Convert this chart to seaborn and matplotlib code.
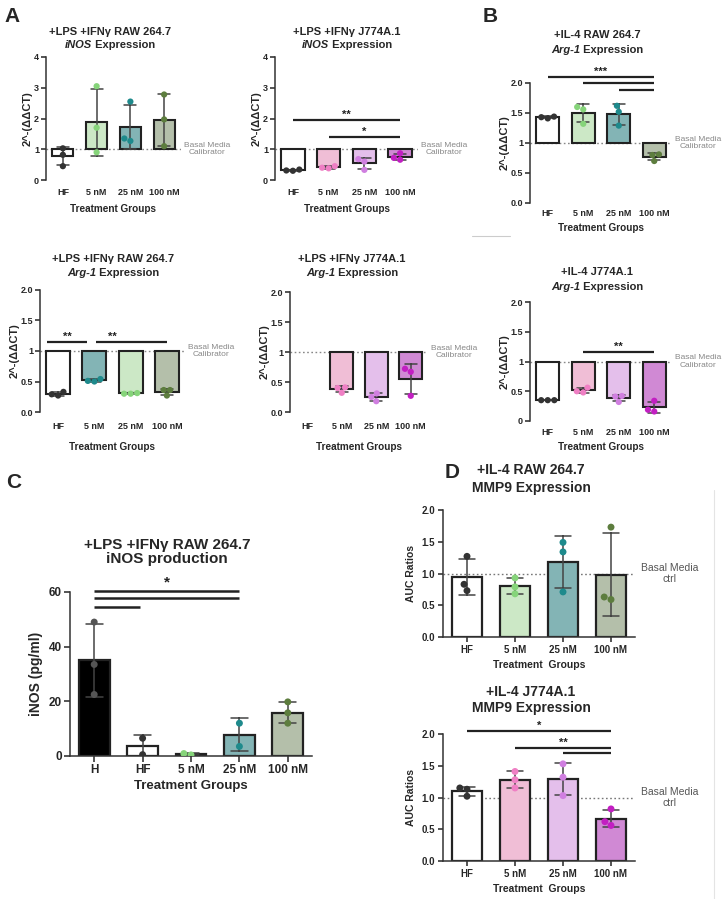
import numpy as np
import pandas as pd
import matplotlib
matplotlib.use("Agg")
import matplotlib.pyplot as plt
import matplotlib.transforms as mtransforms
from matplotlib.lines import Line2D
import seaborn as sns

W, H = 726, 899

groups = ["HF", "5 nM", "25 nM", "100 nM"]
groups_c = ["H", "HF", "5 nM", "25 nM", "100 nM"]

# A: +LPS +IFNg, 2^-(ddCT) per replicate
raw_inos = [[1.03, 0.82, 0.45], [3.05, 1.70, 0.90], [2.55, 1.27, 1.35], [2.78, 1.97, 1.10]]
j774_inos = [[0.30, 0.34, 0.31], [0.38, 0.45, 0.40], [0.33, 0.60, 0.68], [0.87, 0.66, 0.72]]
raw_arg1_lps = [[0.27, 0.33, 0.29], [0.50, 0.54, 0.51], [0.30, 0.31, 0.30], [0.36, 0.36, 0.27]]
j774_arg1_lps = [[], [0.32, 0.41, 0.40], [0.18, 0.31, 0.25], [0.72, 0.67, 0.27]]
# B: +IL-4
raw_arg1_il4 = [[1.43, 1.44, 1.41], [1.60, 1.56, 1.32], [1.62, 1.52, 1.29], [0.80, 0.81, 0.70]]
j774_arg1_il4 = [[0.35, 0.35, 0.35], [0.56, 0.48, 0.50], [0.42, 0.32, 0.41], [0.34, 0.16, 0.19]]
# C: iNOS production (pg/ml)
inos_prod = [[49.0, 33.5, 22.5], [6.5, 0.5], [0.4, 0.9], [12.0, 3.5], [19.8, 15.8, 12.0]]
# D: MMP9 AUC ratios
raw_mmp9 = [[1.27, 0.83, 0.73], [0.93, 0.79, 0.68], [1.49, 1.34, 0.71], [1.73, 0.59, 0.63]]
j774_mmp9 = [[1.15, 1.13, 1.02], [1.41, 1.28, 1.15], [1.53, 1.32, 1.03], [0.82, 0.62, 0.56]]

ticks_04 = [0, 1, 2, 3, 4]
labels_04 = ["0", "1", "2", "3", "4"]
ticks_02 = [0, 0.5, 1, 1.5, 2.0]
labels_b_top = ["0.0", "0.5", "1", "1.5", "2.0"]
labels_b_bot = ["0", "0.5", "1", "1.5", "2.0"]
labels_d = ["0.0", "0.5", "1.0", "1.5", "2.0"]
ticks_c = [0, 20, 40, 60]

raw_fill = ["white", "#c8eec0", "#7bbcbd", "#b4c3a6"]
raw_dot = ["#333333", "#86d47a", "#1e8a8c", "#5d7d3e"]
raw_fill_arg = ["white", "#7bbcbd", "#c8eec0", "#b4c3a6"]
raw_dot_arg = ["#333333", "#1e8a8c", "#86d47a", "#5d7d3e"]
j_fill = ["white", "#f8b6d6", "#e9b8f2", "#dc7ce0"]
j_dot = ["#333333", "#ef7fc4", "#d07fe0", "#c21fc2"]
c_fill = ["black", "white", "#c8eec0", "#7bbcbd", "#b4c3a6"]
c_dot = ["#555555", "#333333", "#86d47a", "#1e8a8c", "#5d7d3e"]

FONT = ["Liberation Sans", "DejaVu Sans"]
sns.set_theme(style="ticks")
plt.rcParams["font.family"] = FONT
plt.rcParams["axes.linewidth"] = 1.1
plt.rcParams["axes.edgecolor"] = "#333333"

fig = plt.figure(figsize=(W / 100, H / 100), dpi=100)


def to_long(values, order):
    rows = [(g, v) for g, vals in zip(order, values) for v in vals]
    return pd.DataFrame(rows, columns=["group", "value"])


def make_axes(xa, xend, ytop, ybot, c0, c_last, n):
    ax = fig.add_axes([xa / W, 1 - ybot / H, (xend - xa) / W, (ybot - ytop) / H])
    d = (c_last - c0) / (n - 1)
    ax.set_xlim(-(c0 - xa) / d, (xend - c0) / d)
    return ax


def draw_bars(ax, values, order, fills, dots, baseline=None, width=0.66, lw=1.5, dot_size=4.5):
    df = to_long(values, order)
    sns.barplot(data=df, x="group", y="value", hue="group", order=order, hue_order=order,
                palette=dict(zip(order, fills)), errorbar="sd", capsize=0.35,
                err_kws={"color": "#444444", "linewidth": 1.1}, edgecolor="#222222",
                linewidth=lw, width=width, legend=False, ax=ax)
    if baseline is not None:
        for p in ax.patches:
            h = p.get_height()
            if np.isfinite(h) and h != 0:
                p.set_y(baseline)
                p.set_height(h - baseline)
    sns.swarmplot(data=df, x="group", y="value", hue="group", order=order, hue_order=order,
                  palette=dict(zip(order, dots)), size=dot_size, legend=False, ax=ax, zorder=4)


def style_ratio(ax, ticks, labels, ymax, ylabel, note, tick_fs=6.5, lab_fs=7.2, xpad=6, lpad=5):
    ax.set_ylim(0, ymax)
    ax.set_yticks(ticks)
    ax.set_yticklabels(labels, fontsize=tick_fs, fontweight="bold")
    sns.despine(ax=ax, bottom=True)
    ax.tick_params(axis="x", length=0, pad=xpad, labelsize=tick_fs)
    ax.tick_params(axis="y", length=3.5, width=1.1, pad=1.5)
    for t in ax.get_xticklabels():
        t.set_fontweight("bold")
    ax.set_xlabel("Treatment Groups", fontsize=lab_fs, fontweight="bold", labelpad=lpad)
    ax.set_ylabel(ylabel, fontsize=8, fontweight="bold", labelpad=1)
    ax.axhline(1, color="#888888", lw=1.0, ls=(0, (1.2, 1.8)), zorder=0)
    tr = mtransforms.blended_transform_factory(ax.transAxes, ax.transData)
    ax.text(1.02, 1, note, transform=tr, ha="left", va="center", fontsize=6,
            color="#888888", multialignment="center", linespacing=1.1)


def sig(ax, i, j, y, label=None, fs=8, lw=1.6, dy=0.0):
    ax.plot([i, j], [y, y], color="#222222", lw=lw, clip_on=False, solid_capstyle="butt")
    if label:
        ax.text((i + j) / 2, y + dy, label, ha="center", va="bottom", fontsize=fs,
                fontweight="bold", color="#222222", clip_on=False)


def ftext(x, y, s, **kw):
    kw.setdefault("ha", "center")
    kw.setdefault("va", "center")
    return fig.text(x / W, 1 - y / H, s, **kw)


def mixed_line(cx, y, ital, rest, size):
    r = fig.canvas.get_renderer()
    t1 = ftext(0, y, ital, fontsize=size, fontweight="bold", style="italic", ha="left")
    t2 = ftext(0, y, rest, fontsize=size, fontweight="bold", ha="left")
    w1 = t1.get_window_extent(r).width
    w2 = t2.get_window_extent(r).width
    x0 = cx - (w1 + w2) / 2
    t1.set_x(x0 / W)
    t2.set_x((x0 + w1) / W)


ylab_a = "2^-(ΔΔCT)"
note_a = "Basal Media\nCalibrator"

# ---- A top left
ax = make_axes(46, 181, 57, 180, 59, 157, 4)
draw_bars(ax, raw_inos, groups, raw_fill, raw_dot, baseline=1, width=0.62)
style_ratio(ax, ticks_04, labels_04, 4, ylab_a, note_a)
ftext(110, 32, "+LPS +IFNγ RAW 264.7", fontsize=8, fontweight="bold")
mixed_line(110, 45, "iNOS", " Expression", 8)

# ---- A top right
ax = make_axes(275, 418, 57, 180, 297, 396, 4)
draw_bars(ax, j774_inos, groups, j_fill, j_dot, baseline=1)
style_ratio(ax, ticks_04, labels_04, 4, ylab_a, note_a)
sig(ax, 0, 3, 1.95, "**")
sig(ax, 1, 3, 1.40, "*")
ftext(347, 32, "+LPS +IFNγ J774A.1", fontsize=8, fontweight="bold")
mixed_line(347, 45, "iNOS", " Expression", 8)

# ---- B top
ax = make_axes(530, 672, 83, 203, 552, 643, 4)
draw_bars(ax, raw_arg1_il4, groups, raw_fill, raw_dot, baseline=1)
style_ratio(ax, ticks_02, labels_b_top, 2.0, ylab_a, note_a, xpad=4, lpad=4)
sig(ax, 0, 3, 2.10, "***")
sig(ax, 1, 3, 2.00)
sig(ax, 2, 3, 1.88)
ftext(597, 35, "+IL-4 RAW 264.7", fontsize=8, fontweight="bold")
mixed_line(597, 50, "Arg-1", " Expression", 8)

# ---- A bottom left
ax = make_axes(40, 185, 290, 412, 60, 161, 4)
draw_bars(ax, raw_arg1_lps, groups, raw_fill_arg, raw_dot_arg, baseline=1)
style_ratio(ax, ticks_02, labels_b_top, 2.0, ylab_a, note_a, xpad=7, lpad=8)
sig(ax, -0.3, 0.8, 1.15, "**")
sig(ax, 1.05, 3.0, 1.15, "**")
ax.texts[-1].set_x(1.5)
ftext(113, 259, "+LPS +IFNγ RAW 264.7", fontsize=8, fontweight="bold")
mixed_line(113, 273, "Arg-1", " Expression", 8)

# ---- A bottom right
ax = make_axes(290, 428, 292, 412, 313, 407, 4)
draw_bars(ax, j774_arg1_lps, groups, j_fill, j_dot, baseline=1)
style_ratio(ax, ticks_02, labels_b_top, 2.0, ylab_a, note_a, xpad=7, lpad=8)
ftext(352, 259, "+LPS +IFNγ J774A.1", fontsize=8, fontweight="bold")
mixed_line(352, 273, "Arg-1", " Expression", 8)

# ---- B bottom
ax = make_axes(530, 672, 302, 421, 552, 649, 4)
draw_bars(ax, j774_arg1_il4, groups, j_fill, j_dot, baseline=1)
style_ratio(ax, ticks_02, labels_b_bot, 2.0, ylab_a, note_a, xpad=5, lpad=4)
sig(ax, 1, 3, 1.16, "**")
ftext(597, 272, "+IL-4 J774A.1", fontsize=8, fontweight="bold")
mixed_line(597, 287, "Arg-1", " Expression", 8)

# ---- C
ax = make_axes(70, 312, 592, 756, 100, 281, 5)
draw_bars(ax, inos_prod, groups_c, c_fill, c_dot, width=0.64, lw=1.6, dot_size=5)
ax.set_ylim(0, 60)
ax.set_yticks(ticks_c)
ax.set_yticklabels([str(t) for t in ticks_c], fontsize=8.5, fontweight="bold")
sns.despine(ax=ax)
ax.tick_params(axis="both", length=4, width=1.1, labelsize=8.5, pad=2)
for t in ax.get_xticklabels():
    t.set_fontweight("bold")
ax.set_xlabel("Treatment Groups", fontsize=9.5, fontweight="bold", labelpad=3)
ax.set_ylabel("iNOS (pg/ml)", fontsize=10, fontweight="bold", labelpad=4)
sig(ax, 0, 3, 60.2, "*", fs=11, lw=1.8, dy=0.6)
sig(ax, 0, 3, 57.8, lw=1.8)
sig(ax, 0, 0.95, 54.5, lw=1.8)
ftext(167, 545, "+LPS +IFNγ RAW 264.7", fontsize=11, fontweight="bold")
ftext(167, 559, "iNOS production", fontsize=11, fontweight="bold")


# ---- D
def style_d(ax):
    ax.set_ylim(0, 2.0)
    ax.set_yticks(ticks_02)
    ax.set_yticklabels(labels_d, fontsize=7, fontweight="bold")
    sns.despine(ax=ax)
    ax.tick_params(axis="both", length=3.5, width=1.1, labelsize=7, pad=2)
    for t in ax.get_xticklabels():
        t.set_fontweight("bold")
    ax.set_xlabel("Treatment  Groups", fontsize=7.5, fontweight="bold", labelpad=4)
    ax.set_ylabel("AUC Ratios", fontsize=7.5, fontweight="bold", labelpad=4)
    ax.axhline(1, color="#777777", lw=1.0, ls=(0, (1.2, 1.8)), zorder=0)
    tr = mtransforms.blended_transform_factory(ax.transAxes, ax.transData)
    ax.text(1.03, 1, "Basal Media\nctrl", transform=tr, ha="left", va="center", fontsize=7.5,
            color="#555555", multialignment="center", linespacing=1.1)


ax = make_axes(443, 635, 510, 637, 475, 605, 4)
draw_bars(ax, raw_mmp9, groups, raw_fill, raw_dot, width=0.64, lw=1.6, dot_size=5)
style_d(ax)
ftext(531, 470, "+IL-4 RAW 264.7", fontsize=10, fontweight="bold")
ftext(531, 488, "MMP9 Expression", fontsize=10, fontweight="bold")

ax = make_axes(443, 635, 734, 861, 475, 605, 4)
draw_bars(ax, j774_mmp9, groups, j_fill, j_dot, width=0.64, lw=1.6, dot_size=5)
style_d(ax)
sig(ax, 0, 3, 2.05, "*")
sig(ax, 1, 3, 1.78, "**")
sig(ax, 2, 3, 1.70)
ftext(531, 692, "+IL-4 J774A.1", fontsize=10, fontweight="bold")
ftext(531, 708, "MMP9 Expression", fontsize=10, fontweight="bold")

# panel letters and separators
for letter, x, y in [("A", 12, 17), ("B", 490, 17), ("C", 14, 483), ("D", 452, 472)]:
    ftext(x, y, letter, fontsize=15, fontweight="bold")
fig.add_artist(Line2D([472 / W, 510 / W], [1 - 236 / H, 1 - 236 / H], color="#cccccc", lw=0.8))
fig.add_artist(Line2D([714 / W, 714 / W], [1 - 490 / H, 0], color="#e4e4e4", lw=0.8))

fig.savefig("out.png", dpi=100, facecolor="white")
